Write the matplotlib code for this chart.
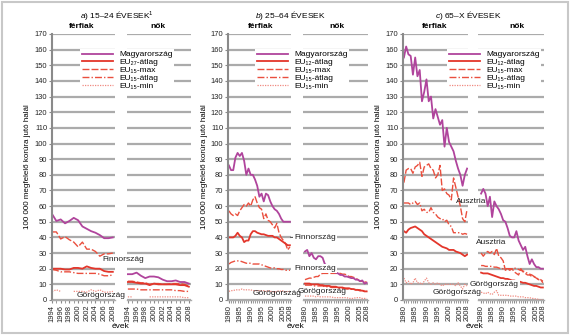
import numpy as np
import matplotlib.pyplot as plt
from matplotlib.patches import Rectangle

plt.rcParams.update({
    'font.family': ['Liberation Sans', 'DejaVu Sans'],
    'font.size': 6.5,
    'mathtext.fontset': 'custom',
    'mathtext.rm': 'Liberation Sans',
    'mathtext.it': 'Liberation Sans:italic',
    'mathtext.bf': 'Liberation Sans:bold',
})

nan = np.nan

# ---- data -------------------------------------------------------------
years_a = list(range(1994, 2009))
years_bc = list(range(1980, 2009))

# a) 15-24 évesek
a_f_hu = [55, 50.5, 51.5, 49, 50.5, 52.5, 51, 47, 45.5, 44, 43, 41.5, 39.5, 39.5, 40]
a_f_avg = [20, 20, 20, 19.5, 19.5, 20.5, 20.5, 20, 21.5, 20.5, 20, 20, 18.5, 18, 18]
a_f_max = [43.5, 43.5, 39, 40.5, 38.5, 37, 34, 37, 32.5, 32.5, 31, 28, 29.5, 29.5, 30]
a_f_eu15 = [19.5, 19, 18, 18, 18, 17.5, 17, 17, 17, 17, 17, 16.5, 15.5, 15.5, 16]
a_f_min = [5.5, 6.5, 5.5, nan, nan, 5.5, 5.5, 5.5, 5, 6.5, 5.5, 6.5, 5, 5, 5.5]

a_n_hu = [16.5, 16.5, 17.5, 15.5, 14, 15, 15, 14.5, 13, 12, 12, 12.5, 11.5, 11.5, 10.5]
a_n_avg = [11.5, 11.5, 11, 10.5, 10.5, 9.5, 10.5, 10, 10, 10, 10, 10, 9.5, 9.5, 8.5]
a_n_max = [12, 12, 11.5, 11, 11, 10, 10.5, 10.5, 10, 10, 10.5, 10.5, 10.5, 10, 9]
a_n_eu15 = [7, 7, 7, 6.5, 6.5, 6.5, 6.5, 6.5, 6.5, 6.5, 6.5, 6, 6, 5.5, 5.5]
a_n_min = [2, 2, nan, nan, nan, 2, 2, 2, 2, 2, 2, 2, 2, 1.5, 1.5]

# b) 25-64 évesek
b_f_hu = [86, 83, 83, 91, 94, 92, 94, 89, 80, 84, 80, 80, 77, 73, 66, 68, 63, 68, 67, 63,
          60, 58, 57, 55, 52, 50, 50, 50, 50]
b_f_avg = [40, 40, 40, 41, 43, 41, 40, 37, 38, 38, 42, 44, 44, 43, 42.5, 42, 42, 41.5, 41, 41,
           41, 40, 40, 39, 38, 37, 36, 35, 35]
b_f_max = [57, 55, 54, 55, 54, 57, 59, 61, 60, 62, 60, 64, 66, 62, 59, 58, 52, 55, 51, 50,
           48, 46, 49, 43, 40, 38, 36, 32, 34]
b_f_eu15 = [23, 24, 24.5, 25, 25, 25, 24.5, 24, 23.5, 23.5, 23.5, 23, 23, 23, 23, 22.5, 22,
            21.5, 21, 20.5, 20.5, 20.5, 20, 20, 19.5, 19.5, 19, 19, 19]
b_f_min = [5.5, 6, 6, 6.5, 6.5, 6.5, 7, 6.5, 6.5, 6.5, 6.5, 6, 6, 6, 6, 6, 6, 5.5, 6, 5.5,
           5.5, 5, 5.5, 6, 5.5, 6, 5, 5.5, 5.5]

b_n_hu = [31, 32, 28, 30, 27, 26, 28, 28, 27, 23, 22, 21, 19, 18, 17.5, 17, 16, 16, 15, 15,
          14.5, 14, 14, 13, 13, 12, 12.5, 10.5, 11]
b_n_avg = [10.5, 10.5, 10.5, 10, 10, 10, 10, 9.5, 9.5, 9, 9, 9, 8.5, 8.5, 8.5, 8, 8, 8, 7.5,
           7.5, 7.5, 7, 7, 6.5, 6.5, 6, 6, 5.5, 5.5]
b_n_max = [13, 13.5, 14, 14, 14.5, 15, 15, 16.5, 17, 17, 17, 17, 17, 17, 17, 17, 17, 16.5,
           16.5, 16, 15, 15, 14.5, 14, 13, 12, 12, 11.5, 11.5]
b_n_eu15 = [9.5, 9.5, 9.5, 9.5, 9, 9, 9, 9, 9, 8.5, 8.5, 8.5, 8, 8, 8, 8, 7.5, 7.5, 7.5, 7,
            7, 7, 7, 6.5, 6.5, 6.5, 6, 6, 6]
b_n_min = [2.5, 2.5, 2.5, 2.5, 2.5, 2, 2.5, 2, 2, 2, 2, 2, 2, 1.5, 1.5, 1.5, 1.5, 1.5, 1.5,
           1.5, 1, 1, 1, 1.5, 1.5, 1.5, 1, 1, 1]

# c) 65-X évesek
c_f_hu = [155, 162, 157, 156, 144, 155, 143, 147, 127, 133, 141, 127, 130, 116, 122, 117,
          112, 115, 98, 110, 101, 98, 95, 89, 84, 80, 73, 80, 84]
c_f_avg = [44, 43, 45, 46, 46.5, 47, 46, 45, 44, 42, 41, 40, 39, 38, 37, 36, 35, 34, 33.5,
           33, 32, 32, 32, 31, 30.5, 30, 29, 28, 29]
c_f_max = [75, 83, 84, 84, 81, 85, 86, 88, 79, 85, 86, 87, 84, 83, 78, 80, 86, 70, 71, 68,
           67, 64, 78, 72, 66, 60, 52, 50, 58]
c_f_eu15 = [62, 62, 62, 61, 62, 63, 61, 62, 57, 58, 56, 56, 59, 56, 55, 53, 52, 52, 50, 51,
            48, 47, 43, 43, 43, 43, 42, 42.5, 42]
c_f_min = [14, 11, 12, 10, 11, 14, 11, 11, 10, 12, 14, 11, 10, 11, 10, 11, 10, 9, 10, 10,
           10, 10, 10, 9, 11, 9, 7, 10, 9]

c_n_hu = [68, 71, 68, 60, 66, 53, 63, 60, 58, 55, 51, 50, 46, 41, 40, 40, 44, 38, 35, 32,
          34, 28, 23, 26, 23, 21, 21, 20, 20]
c_n_avg = [17.5, 17, 17, 17, 16.5, 16, 15.5, 15, 14.5, 14, 14, 13.5, 13.5, 13, 12.5, 12.5,
           12, 12, 11.5, 11, 11, 10.5, 10, 9.5, 9, 9, 8.5, 8, 8]
c_n_max = [30, 28, 30, 31, 30, 31, 29, 33, 28, 27, 25, 19, 20, 19, 20, 18, 17, 16, 20, 18,
           17, 16, 16, 15, 15, 14, 13, 13, 11]
c_n_eu15 = [22, 22, 21.5, 21.5, 21.5, 21.5, 21, 21, 20.5, 20, 20, 20, 20, 20, 20, 20.5, 20,
            19.5, 19, 18.5, 18, 17, 16.5, 16, 15, 14, 13.5, 13, 12]
c_n_min = [5, 4.5, 4, 5, 4, 3.5, 5, 6, 3, 3, 3, 3, 3, 2.5, 2.5, 2.5, 2.5, 2, 2, 2, 1.5, 1.5,
           1.5, 1, 1, 0.5, 0.5, 0, 0]

# ---- styles -----------------------------------------------------------
W, H = 570, 335
PURPLE = '#b0449c'
RED = '#e3362b'
RED2 = '#ea4f3e'
PINK = '#f08a80'
GRID = '#ababab'
TXT = '#222222'
TICK_FS = 5.4

fig = plt.figure(figsize=(W / 100, H / 100), dpi=100)
fig.patches.append(Rectangle((2 / W, 2 / H), 566 / W, 331 / H, fill=False,
                             edgecolor='#c8c8c8', lw=1.5, transform=fig.transFigure))


def add_ax(x0, x1, xlim, left):
    ax = fig.add_axes([x0 / W, (H - 300) / H, (x1 - x0) / W, 266 / H])
    ax.patch.set_visible(False)
    ax.set_ylim(0, 170)
    ax.set_xlim(*xlim)
    ax.set_yticks(range(0, 171, 10))
    ax.yaxis.grid(True, color=GRID, lw=1.6)
    ax.set_axisbelow(True)
    for s in ['top', 'right']:
        ax.spines[s].set_visible(False)
    ax.spines['bottom'].set_color(GRID)
    ax.spines['bottom'].set_linewidth(1.0)
    if left:
        ax.spines['left'].set_color('#8a8a8a')
        ax.spines['left'].set_linewidth(1.5)
        ax.tick_params(axis='y', length=2, color='#8a8a8a', pad=1.5, labelcolor=TXT,
                       labelsize=TICK_FS)
    else:
        ax.spines['left'].set_visible(False)
        ax.tick_params(axis='y', left=False, labelleft=False)
    ax.tick_params(axis='x', which='both', direction='out', length=2, color='#8a8a8a',
                   labelrotation=90, pad=1.5, labelcolor=TXT, labelsize=TICK_FS)
    return ax


def draw(ax, years, hu, avg, mx, eu15, mn, avg_label):
    ax.plot(years, mx, color=RED2, lw=1.0, dashes=(5, 1.5), label='EU₁₅-max')
    ax.plot(years, eu15, color=RED2, lw=1.0, dashes=(5, 1.5, 1, 1.5), label='EU₁₅-átlag')
    ax.plot(years, mn, color=PINK, lw=0.9, dashes=(1, 1), label='EU₁₅-min')
    ax.plot(years, avg, color=RED, lw=1.3, label=avg_label)
    ax.plot(years, hu, color=PURPLE, lw=1.3, label='Magyarország')


def set_xt(ax, years, major):
    ax.set_xticks(major)
    ax.set_xticks(years, minor=True)
    ax.set_xticklabels([str(y) for y in major])


def legend(ax, x_px):
    h, l = ax.get_legend_handles_labels()
    order = [4, 3, 0, 1, 2]
    fig.legend([h[i] for i in order], [l[i] for i in order], loc='upper left',
               bbox_to_anchor=(x_px / W, 1 - 49 / H), frameon=True, facecolor='white',
               edgecolor='none', framealpha=1, fancybox=False, borderpad=0.2,
               borderaxespad=0, handlelength=3.7, handletextpad=0.8, labelspacing=0.0,
               fontsize=6.0)


def note(ax, x, y, s, box=False):
    kw = dict(fontsize=6.0, va='center', ha='left', color=TXT, transform=ax.transData)
    if box:
        kw['bbox'] = dict(facecolor='white', edgecolor='none', pad=0.6)
    fig.text(x, y, s, **kw)


# panel a
ax = add_ax(52, 115, (1994, 2008.5), True)
draw(ax, years_a, a_f_hu, a_f_avg, a_f_max, a_f_eu15, a_f_min, 'EU₂₇-átlag')
set_xt(ax, years_a, list(range(1994, 2009, 2)))
note(ax, 2005.7, 26, 'Finnország')
note(ax, 1999.7, 3, 'Görögország')
legend(ax, 80)
ax = add_ax(127, 191, (1993.8, 2008.5), False)
draw(ax, years_a, a_n_hu, a_n_avg, a_n_max, a_n_eu15, a_n_min, 'EU₂₇-átlag')
set_xt(ax, years_a, list(range(1994, 2009, 2)))

major_bc = [1980, 1985, 1990, 1995, 2000, 2005, 2008]

# panel b
ax = add_ax(228, 291, (1979.6, 2008.5), True)
draw(ax, years_bc, b_f_hu, b_f_avg, b_f_max, b_f_eu15, b_f_min, 'EU₁₂-átlag')
set_xt(ax, years_bc, major_bc)
ax.annotate('', xy=(2008.3, 40), xytext=(2009.9, 40), annotation_clip=False,
            arrowprops=dict(arrowstyle='-', color='#555555', lw=0.8, shrinkA=0, shrinkB=0))
note(ax, 2010, 40, 'Finnország', box=True)
note(ax, 2010, 20, 'Finnország', box=True)
note(ax, 1991, 4, 'Görögország')
legend(ax, 255)
ax = add_ax(303, 368, (1979.1, 2008.6), False)
draw(ax, years_bc, b_n_hu, b_n_avg, b_n_max, b_n_eu15, b_n_min, 'EU₁₂-átlag')
set_xt(ax, years_bc, major_bc)
note(ax, 1976.8, 5.3, 'Görögország')

# panel c
ax = add_ax(403, 468, (1979.6, 2008.4), True)
draw(ax, years_bc, c_f_hu, c_f_avg, c_f_max, c_f_eu15, c_f_min, 'EU₁₂-átlag')
set_xt(ax, years_bc, major_bc)
note(ax, 2003.1, 63, 'Ausztria')
note(ax, 1992.9, 4.7, 'Görögország')
legend(ax, 447)
ax = add_ax(478, 544, (1978.6, 2008.5), False)
draw(ax, years_bc, c_n_hu, c_n_avg, c_n_max, c_n_eu15, c_n_min, 'EU₁₂-átlag')
set_xt(ax, years_bc, major_bc)
note(ax, 1977.7, 37, 'Ausztria')
note(ax, 1975, 10, 'Görögország', box=True)

# titles and labels
titles = [r'$\mathit{a)}$ 15–24 ÉVESEK$^{\mathit{1}}$', r'$\mathit{b)}$ 25–64 ÉVESEK',
          r'$\mathit{c)}$ 65–X ÉVESEK']
title_x = [117, 290, 468]
fer_x = [82, 261, 435]
nok_x = [158, 337, 517]
ylab_x = [28, 205, 378]
evek_x = [120, 296, 475]
for i in range(3):
    fig.text(title_x[i] / W, 1 - 15 / H, titles[i], ha='center', va='center', fontsize=6.0)
    fig.text(fer_x[i] / W, 1 - 27 / H, 'férfiak', ha='center', va='center',
             fontsize=6.0, fontweight='bold')
    fig.text(nok_x[i] / W, 1 - 27 / H, 'nők', ha='center', va='center',
             fontsize=6.0, fontweight='bold')
    fig.text(ylab_x[i] / W, 1 - 167 / H, '100 000 megfelelő korúra jutó halál',
             rotation=90, ha='center', va='center', fontsize=5.8)
    fig.text(evek_x[i] / W, 1 - 326 / H, 'évek', ha='center', va='center', fontsize=6.0)

fig.savefig('out.png', dpi=100)
